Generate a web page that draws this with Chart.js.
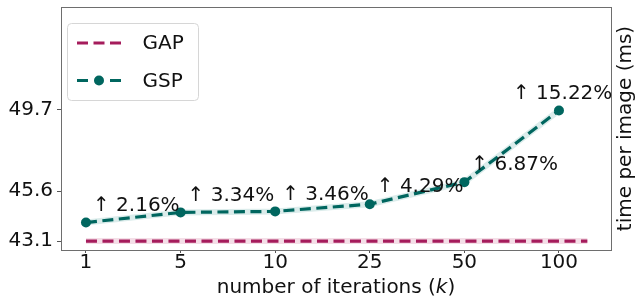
<!DOCTYPE html>
<html>
<head>
<meta charset="utf-8">
<script src="https://cdn.jsdelivr.net/npm/chart.js@4.4.0/dist/chart.umd.min.js"></script>
<style>
    html, body { margin: 0; padding: 0; background: #fff; }
</style>
</head>
<body>
<canvas id="timeChart" width="636" height="301"></canvas>
<script>
// data
const iterations = ['1', '5', '10', '25', '50', '100'];
const gspTime = [44.03, 44.54, 44.59, 44.95, 46.06, 49.66];
const gapTime = 43.1;
const gapSpan = [0, 5.3];
const gains = ['↑ 2.16%', '↑ 3.34%', '↑ 3.46%', '↑ 4.29%', '↑ 6.87%', '↑ 15.22%'];
const yTicks = [43.1, 45.6, 49.7];

const FONT = "'DejaVu Sans', sans-serif";
const GAP_COLOR = '#a51c5c';
const GSP_COLOR = '#00665f';

const figurePlugin = {
    id: 'figureExtras',
    afterDraw(chart) {
        const ctx = chart.ctx;
        const area = chart.chartArea;
        ctx.save();

        // frame (all four spines)
        ctx.strokeStyle = '#6e6e6e';
        ctx.lineWidth = 1;
        ctx.strokeRect(Math.round(area.left) + 0.5, Math.round(area.top) + 0.5,
            Math.round(area.right - area.left), Math.round(area.bottom - area.top));

        // gain labels next to each GSP point
        const meta = chart.getDatasetMeta(3);
        ctx.font = '20px ' + FONT;
        ctx.fillStyle = '#111';
        ctx.textBaseline = 'middle';
        meta.data.forEach((pt, i) => {
            const last = i === gains.length - 1;
            ctx.textAlign = 'left';
            ctx.fillText(gains[i], pt.x + (last ? -46 : 7), pt.y - 17);
        });

        // x axis title with italic k
        const cx = (area.left + area.right) / 2;
        const ty = 288;
        const a = 'number of iterations (', b = 'k', c = ')';
        ctx.font = '20px ' + FONT;
        const wa = ctx.measureText(a).width, wc = ctx.measureText(c).width;
        ctx.font = 'italic 20px ' + FONT;
        const wb = ctx.measureText(b).width;
        let x = cx - (wa + wb + wc) / 2;
        ctx.textAlign = 'left';
        ctx.font = '20px ' + FONT;
        ctx.fillText(a, x, ty);
        ctx.font = 'italic 20px ' + FONT;
        ctx.fillText(b, x + wa, ty);
        ctx.font = '20px ' + FONT;
        ctx.fillText(c, x + wa + wb, ty);

        // right side title, reading bottom to top
        ctx.save();
        ctx.translate(626, (area.top + area.bottom) / 2);
        ctx.rotate(-Math.PI / 2);
        ctx.textAlign = 'center';
        ctx.fillText('time per image (ms)', 0, 0);
        ctx.restore();

        // legend
        const lx = area.left + 6.5, ly = area.top + 16.5, lw = 131, lh = 77;
        ctx.beginPath();
        ctx.roundRect(lx, ly, lw, lh, 4);
        ctx.fillStyle = 'rgba(255,255,255,0.85)';
        ctx.fill();
        ctx.strokeStyle = '#d6d6d6';
        ctx.lineWidth = 1;
        ctx.stroke();

        const sx0 = lx + 9.5, sx1 = sx0 + 44;
        const rows = [
            { label: 'GAP', color: GAP_COLOR, y: ly + 19.5, marker: false },
            { label: 'GSP', color: GSP_COLOR, y: ly + 57, marker: true }
        ];
        rows.forEach(r => {
            ctx.strokeStyle = r.color;
            ctx.lineWidth = 3.2;
            ctx.setLineDash([11, 5.5]);
            ctx.beginPath();
            ctx.moveTo(sx0, r.y);
            ctx.lineTo(sx1, r.y);
            ctx.stroke();
            ctx.setLineDash([]);
            if (r.marker) {
                ctx.fillStyle = '#fff';
                ctx.fillRect(sx0 + 14, r.y - 3, 16, 6);
                ctx.fillStyle = r.color;
                ctx.beginPath();
                ctx.arc((sx0 + sx1) / 2, r.y, 5, 0, Math.PI * 2);
                ctx.fill();
            }
            ctx.fillStyle = '#111';
            ctx.font = '20px ' + FONT;
            ctx.textAlign = 'left';
            ctx.fillText(r.label, lx + 75, r.y + 1);
        });

        ctx.restore();
    }
};

new Chart(document.getElementById('timeChart'), {
    type: 'line',
    data: {
        datasets: [
            {
                label: 'GAP halo',
                data: gapSpan.map(x => ({ x, y: gapTime })),
                borderColor: '#f4dee7',
                borderWidth: 6,
                pointRadius: 0,
                order: 10
            },
            {
                label: 'GAP',
                data: gapSpan.map(x => ({ x, y: gapTime })),
                borderColor: GAP_COLOR,
                borderWidth: 3.2,
                borderDash: [11, 5.5],
                pointRadius: 0,
                order: 1
            },
            {
                label: 'GSP halo',
                data: gspTime.map((y, i) => ({ x: i, y })),
                borderColor: '#dbeceb',
                borderWidth: 6,
                pointRadius: 0,
                order: 10
            },
            {
                label: 'GSP',
                data: gspTime.map((y, i) => ({ x: i, y })),
                borderColor: GSP_COLOR,
                borderWidth: 3.2,
                borderDash: [11, 5.5],
                pointRadius: 5,
                pointBackgroundColor: GSP_COLOR,
                pointBorderWidth: 0,
                order: 0
            }
        ]
    },
    options: {
        responsive: false,
        animation: false,
        events: [],
        layout: { padding: { top: 7, left: 0, right: 25, bottom: 0 } },
        plugins: {
            legend: { display: false },
            tooltip: { enabled: false }
        },
        scales: {
            x: {
                type: 'linear',
                min: -0.264,
                max: 5.55,
                afterBuildTicks: s => { s.ticks = iterations.map((_, i) => ({ value: i })); },
                afterFit: s => { s.height = 51; s.paddingLeft = 0; s.paddingRight = 0; },
                ticks: {
                    autoSkip: false,
                    maxRotation: 0,
                    padding: -2,
                    color: '#111',
                    font: { family: FONT, size: 20 },
                    callback: (v, i) => iterations[i]
                },
                grid: { drawOnChartArea: false, tickLength: 3, color: '#555' },
                border: { display: false }
            },
            y: {
                min: 42.65,
                max: 54.86,
                afterBuildTicks: s => { s.ticks = yTicks.map(v => ({ value: v })); },
                afterFit: s => { s.width = 61; s.paddingTop = 0; s.paddingBottom = 0; },
                ticks: {
                    padding: 4,
                    color: '#111',
                    font: { family: FONT, size: 20 },
                    callback: v => v.toFixed(1)
                },
                grid: { drawOnChartArea: false, tickLength: 4, color: '#555' },
                border: { display: false }
            }
        }
    },
    plugins: [figurePlugin]
});
</script>
</body>
</html>
